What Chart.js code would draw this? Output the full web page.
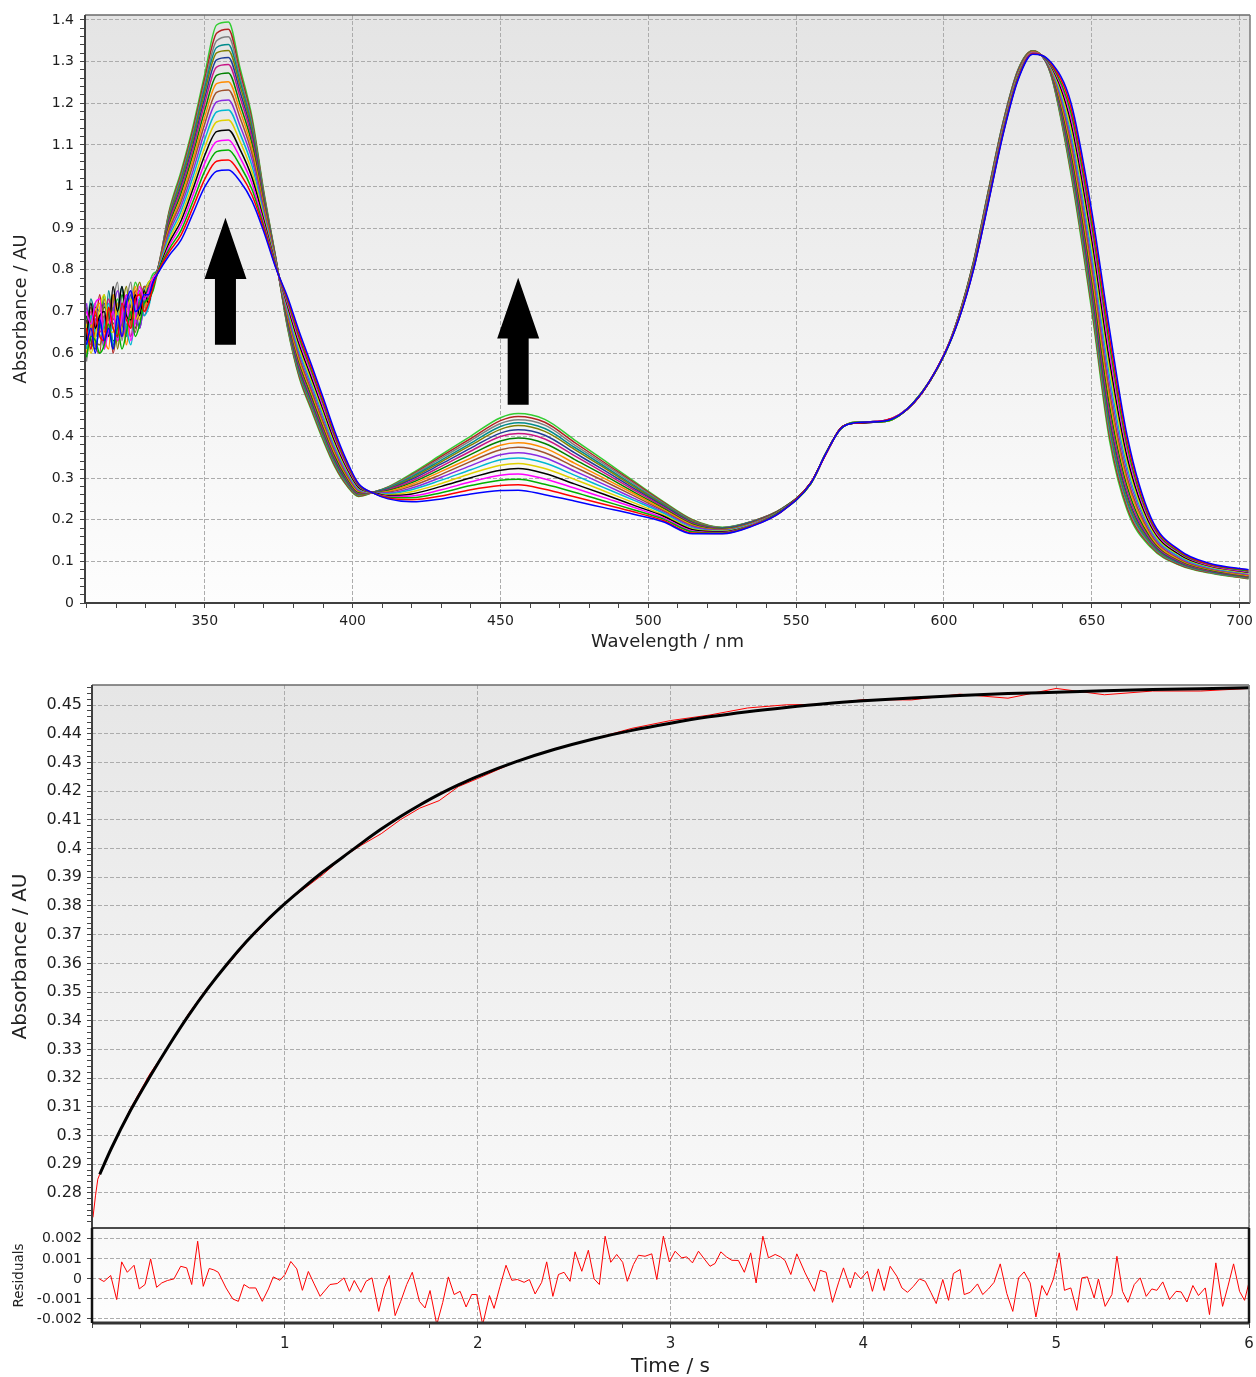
<!DOCTYPE html>
<html>
<head>
<meta charset="utf-8">
<script src="https://cdn.jsdelivr.net/npm/chart.js@4.4.0/dist/chart.umd.min.js"></script>
<style>
  body { margin: 0; background: #fff; width: 1256px; height: 1377px; position: relative; overflow: hidden; }
  canvas { position: absolute; left: 0; }
  #specChart { top: 0; }
  #kinChart { top: 670px; }
  #resChart { top: 1226px; }
</style>
</head>
<body>
<canvas id="specChart" width="1256" height="660"></canvas>
<canvas id="kinChart" width="1256" height="560"></canvas>
<canvas id="resChart" width="1256" height="153"></canvas>
<script>
// ---- spectra (top panel) ----
const wavelengths = [310, 311.5, 313, 314.5, 316, 317.5, 319, 320.5, 322, 323.5, 325, 326.5, 328, 329.5, 331, 332.5,
  334, 338, 342, 346, 350, 354, 358, 362, 366, 370, 374,
  378, 382, 386, 390, 394, 398, 402, 407,
  412, 420, 430, 440, 450, 456, 465, 475, 485, 495, 505, 515, 525, 535,
  545, 555, 560, 565, 570, 580, 590, 600,
  605, 610, 615, 620, 625, 630, 636,
  643, 650, 656, 662, 670, 680, 690, 703];

const scan01 = [0.62, 0.66, 0.60, 0.68, 0.63, 0.66, 0.61, 0.69, 0.64, 0.72, 0.75, 0.70, 0.71, 0.74, 0.74, 0.77,
  0.790, 0.835, 0.872, 0.935, 0.999, 1.037, 1.040, 1.012, 0.965, 0.891, 0.805,
  0.735, 0.651, 0.574, 0.494, 0.412, 0.342, 0.287, 0.264,
  0.250, 0.243, 0.250, 0.262, 0.270, 0.271, 0.260, 0.245, 0.229, 0.213, 0.195, 0.166, 0.166, 0.184,
  0.219, 0.288, 0.358, 0.418, 0.433, 0.437, 0.483, 0.595,
  0.680, 0.800, 0.960, 1.125, 1.255, 1.318, 1.300,
  1.200, 0.940, 0.657, 0.400, 0.205, 0.125, 0.095, 0.080];
const scan02 = [0.66, 0.61, 0.70, 0.64, 0.63, 0.71, 0.66, 0.64, 0.72, 0.68, 0.66, 0.73, 0.74, 0.70, 0.72, 0.76,
  0.791, 0.843, 0.884, 0.950, 1.018, 1.061, 1.064, 1.031, 0.979, 0.898, 0.807,
  0.730, 0.643, 0.566, 0.487, 0.406, 0.338, 0.285, 0.264,
  0.252, 0.248, 0.257, 0.272, 0.282, 0.284, 0.273, 0.255, 0.237, 0.219, 0.198, 0.168, 0.167, 0.185,
  0.219, 0.289, 0.357, 0.419, 0.432, 0.438, 0.482, 0.596,
  0.681, 0.801, 0.962, 1.127, 1.257, 1.319, 1.298,
  1.188, 0.923, 0.638, 0.388, 0.200, 0.123, 0.093, 0.079];
const scan03 = [0.59, 0.64, 0.63, 0.60, 0.62, 0.67, 0.61, 0.66, 0.61, 0.65, 0.70, 0.64, 0.67, 0.72, 0.73, 0.75,
  0.791, 0.850, 0.895, 0.964, 1.037, 1.084, 1.088, 1.050, 0.993, 0.904, 0.809,
  0.725, 0.636, 0.559, 0.480, 0.400, 0.334, 0.283, 0.264,
  0.254, 0.253, 0.265, 0.282, 0.295, 0.297, 0.285, 0.266, 0.245, 0.224, 0.202, 0.171, 0.168, 0.186,
  0.220, 0.287, 0.359, 0.417, 0.434, 0.436, 0.484, 0.594,
  0.681, 0.803, 0.964, 1.129, 1.259, 1.319, 1.296,
  1.176, 0.906, 0.620, 0.375, 0.195, 0.120, 0.092, 0.077];
const scan04 = [0.70, 0.67, 0.72, 0.73, 0.61, 0.66, 0.70, 0.63, 0.69, 0.74, 0.63, 0.68, 0.76, 0.73, 0.75, 0.78,
  0.792, 0.858, 0.907, 0.979, 1.056, 1.108, 1.112, 1.069, 1.007, 0.911, 0.810,
  0.719, 0.628, 0.551, 0.472, 0.394, 0.329, 0.281, 0.264,
  0.256, 0.257, 0.272, 0.291, 0.307, 0.310, 0.298, 0.276, 0.253, 0.230, 0.205, 0.173, 0.169, 0.187,
  0.220, 0.288, 0.357, 0.418, 0.433, 0.438, 0.483, 0.596,
  0.682, 0.804, 0.966, 1.131, 1.260, 1.320, 1.294,
  1.164, 0.890, 0.601, 0.363, 0.190, 0.118, 0.090, 0.075];
const scan05 = [0.63, 0.72, 0.66, 0.69, 0.70, 0.64, 0.76, 0.70, 0.76, 0.69, 0.68, 0.74, 0.69, 0.75, 0.72, 0.77,
  0.793, 0.865, 0.918, 0.994, 1.075, 1.132, 1.136, 1.088, 1.021, 0.918, 0.812,
  0.714, 0.620, 0.543, 0.465, 0.388, 0.325, 0.278, 0.265,
  0.258, 0.262, 0.280, 0.301, 0.319, 0.323, 0.311, 0.286, 0.261, 0.235, 0.209, 0.176, 0.171, 0.187,
  0.221, 0.289, 0.358, 0.419, 0.432, 0.437, 0.482, 0.595,
  0.683, 0.806, 0.968, 1.133, 1.262, 1.320, 1.292,
  1.152, 0.873, 0.582, 0.350, 0.185, 0.115, 0.089, 0.074];
const scan06 = [0.67, 0.60, 0.64, 0.71, 0.74, 0.66, 0.65, 0.72, 0.65, 0.70, 0.73, 0.68, 0.70, 0.74, 0.77, 0.78,
  0.794, 0.873, 0.930, 1.008, 1.094, 1.155, 1.160, 1.107, 1.035, 0.925, 0.814,
  0.709, 0.612, 0.536, 0.458, 0.382, 0.321, 0.276, 0.265,
  0.260, 0.267, 0.287, 0.311, 0.331, 0.335, 0.323, 0.297, 0.269, 0.241, 0.212, 0.178, 0.172, 0.188,
  0.221, 0.287, 0.359, 0.417, 0.434, 0.436, 0.484, 0.594,
  0.684, 0.807, 0.971, 1.136, 1.264, 1.321, 1.290,
  1.139, 0.856, 0.564, 0.338, 0.180, 0.113, 0.087, 0.072];
const scan07 = [0.61, 0.69, 0.65, 0.64, 0.67, 0.72, 0.62, 0.68, 0.72, 0.66, 0.62, 0.70, 0.73, 0.69, 0.71, 0.76,
  0.794, 0.880, 0.941, 1.023, 1.113, 1.179, 1.184, 1.126, 1.049, 0.931, 0.816,
  0.704, 0.604, 0.528, 0.451, 0.376, 0.317, 0.274, 0.265,
  0.262, 0.272, 0.295, 0.320, 0.344, 0.348, 0.336, 0.307, 0.277, 0.247, 0.216, 0.180, 0.173, 0.189,
  0.222, 0.288, 0.358, 0.418, 0.433, 0.438, 0.483, 0.596,
  0.684, 0.808, 0.973, 1.138, 1.266, 1.321, 1.288,
  1.127, 0.839, 0.545, 0.325, 0.175, 0.110, 0.085, 0.071];
const scan08 = [0.72, 0.64, 0.68, 0.69, 0.62, 0.67, 0.70, 0.75, 0.70, 0.64, 0.75, 0.69, 0.66, 0.72, 0.74, 0.77,
  0.795, 0.888, 0.953, 1.037, 1.132, 1.203, 1.208, 1.145, 1.064, 0.938, 0.817,
  0.698, 0.597, 0.520, 0.444, 0.370, 0.313, 0.272, 0.265,
  0.264, 0.276, 0.302, 0.330, 0.356, 0.361, 0.349, 0.317, 0.285, 0.252, 0.219, 0.183, 0.174, 0.190,
  0.222, 0.289, 0.357, 0.419, 0.432, 0.437, 0.482, 0.595,
  0.685, 0.810, 0.975, 1.140, 1.267, 1.322, 1.286,
  1.115, 0.822, 0.526, 0.313, 0.170, 0.108, 0.084, 0.069];
const scan09 = [0.65, 0.71, 0.62, 0.60, 0.73, 0.68, 0.66, 0.63, 0.66, 0.72, 0.69, 0.65, 0.72, 0.76, 0.76, 0.78,
  0.796, 0.896, 0.964, 1.052, 1.151, 1.226, 1.232, 1.164, 1.078, 0.945, 0.819,
  0.693, 0.589, 0.512, 0.436, 0.364, 0.308, 0.270, 0.265,
  0.266, 0.281, 0.309, 0.340, 0.368, 0.374, 0.361, 0.327, 0.293, 0.258, 0.222, 0.185, 0.175, 0.191,
  0.223, 0.287, 0.359, 0.417, 0.434, 0.436, 0.484, 0.594,
  0.686, 0.811, 0.977, 1.142, 1.269, 1.322, 1.284,
  1.103, 0.806, 0.508, 0.300, 0.165, 0.105, 0.082, 0.068];
const scan10 = [0.60, 0.66, 0.70, 0.72, 0.64, 0.61, 0.74, 0.69, 0.70, 0.62, 0.70, 0.76, 0.68, 0.71, 0.73, 0.76,
  0.796, 0.902, 0.974, 1.065, 1.167, 1.247, 1.252, 1.180, 1.090, 0.951, 0.821,
  0.689, 0.582, 0.506, 0.430, 0.359, 0.305, 0.268, 0.265,
  0.268, 0.285, 0.316, 0.348, 0.379, 0.385, 0.372, 0.336, 0.300, 0.263, 0.225, 0.187, 0.176, 0.191,
  0.223, 0.288, 0.358, 0.418, 0.433, 0.438, 0.483, 0.596,
  0.686, 0.812, 0.979, 1.144, 1.271, 1.323, 1.283,
  1.093, 0.791, 0.492, 0.290, 0.160, 0.103, 0.081, 0.066];
const scan11 = [0.69, 0.63, 0.61, 0.67, 0.71, 0.69, 0.63, 0.64, 0.74, 0.71, 0.74, 0.66, 0.71, 0.74, 0.75, 0.78,
  0.797, 0.908, 0.984, 1.077, 1.183, 1.267, 1.273, 1.196, 1.102, 0.956, 0.822,
  0.684, 0.576, 0.499, 0.424, 0.354, 0.301, 0.266, 0.265,
  0.270, 0.289, 0.322, 0.357, 0.389, 0.396, 0.383, 0.345, 0.307, 0.267, 0.228, 0.189, 0.177, 0.192,
  0.224, 0.289, 0.357, 0.419, 0.432, 0.437, 0.482, 0.595,
  0.687, 0.814, 0.980, 1.145, 1.272, 1.323, 1.281,
  1.082, 0.777, 0.475, 0.279, 0.156, 0.101, 0.079, 0.065];
const scan12 = [0.62, 0.70, 0.67, 0.65, 0.68, 0.73, 0.68, 0.72, 0.64, 0.67, 0.64, 0.72, 0.75, 0.69, 0.72, 0.77,
  0.797, 0.915, 0.994, 1.090, 1.200, 1.287, 1.293, 1.213, 1.114, 0.962, 0.824,
  0.680, 0.569, 0.493, 0.418, 0.349, 0.298, 0.264, 0.265,
  0.272, 0.293, 0.328, 0.365, 0.400, 0.407, 0.394, 0.354, 0.313, 0.272, 0.231, 0.191, 0.178, 0.193,
  0.224, 0.287, 0.359, 0.417, 0.434, 0.436, 0.484, 0.594,
  0.687, 0.815, 0.982, 1.147, 1.274, 1.324, 1.279,
  1.072, 0.762, 0.459, 0.268, 0.152, 0.099, 0.078, 0.064];
const scan13 = [0.66, 0.61, 0.71, 0.70, 0.72, 0.65, 0.71, 0.66, 0.67, 0.74, 0.71, 0.70, 0.66, 0.73, 0.76, 0.78,
  0.798, 0.920, 1.002, 1.100, 1.213, 1.304, 1.310, 1.226, 1.124, 0.967, 0.825,
  0.676, 0.563, 0.487, 0.413, 0.345, 0.295, 0.263, 0.266,
  0.273, 0.297, 0.334, 0.372, 0.408, 0.416, 0.403, 0.361, 0.319, 0.276, 0.234, 0.193, 0.179, 0.194,
  0.225, 0.288, 0.358, 0.418, 0.433, 0.438, 0.483, 0.596,
  0.688, 0.816, 0.984, 1.149, 1.275, 1.324, 1.278,
  1.063, 0.750, 0.446, 0.259, 0.148, 0.097, 0.077, 0.063];
const scan14 = [0.71, 0.67, 0.63, 0.62, 0.66, 0.70, 0.74, 0.61, 0.70, 0.76, 0.66, 0.73, 0.77, 0.72, 0.73, 0.77,
  0.798, 0.926, 1.011, 1.111, 1.227, 1.321, 1.327, 1.240, 1.134, 0.972, 0.826,
  0.672, 0.558, 0.482, 0.408, 0.341, 0.292, 0.261, 0.266,
  0.274, 0.300, 0.339, 0.379, 0.417, 0.426, 0.412, 0.369, 0.325, 0.280, 0.236, 0.195, 0.179, 0.194,
  0.225, 0.289, 0.357, 0.419, 0.432, 0.437, 0.482, 0.595,
  0.688, 0.817, 0.985, 1.150, 1.276, 1.325, 1.276,
  1.055, 0.738, 0.433, 0.251, 0.145, 0.096, 0.076, 0.062];
const scan15 = [0.64, 0.73, 0.69, 0.68, 0.61, 0.75, 0.67, 0.70, 0.76, 0.66, 0.73, 0.69, 0.73, 0.75, 0.77, 0.78,
  0.799, 0.930, 1.017, 1.119, 1.238, 1.334, 1.341, 1.251, 1.142, 0.976, 0.827,
  0.669, 0.553, 0.477, 0.403, 0.337, 0.289, 0.260, 0.266,
  0.276, 0.303, 0.343, 0.384, 0.424, 0.433, 0.419, 0.374, 0.329, 0.283, 0.238, 0.196, 0.180, 0.195,
  0.225, 0.287, 0.359, 0.417, 0.434, 0.436, 0.484, 0.594,
  0.689, 0.818, 0.986, 1.151, 1.277, 1.325, 1.275,
  1.048, 0.729, 0.422, 0.243, 0.142, 0.094, 0.075, 0.061];
const scan16 = [0.58, 0.68, 0.72, 0.66, 0.69, 0.64, 0.72, 0.77, 0.63, 0.72, 0.77, 0.67, 0.72, 0.70, 0.74, 0.76,
  0.799, 0.934, 1.024, 1.127, 1.248, 1.350, 1.360, 1.261, 1.150, 0.979, 0.828,
  0.666, 0.549, 0.473, 0.399, 0.334, 0.287, 0.259, 0.266,
  0.277, 0.306, 0.348, 0.390, 0.431, 0.440, 0.427, 0.380, 0.334, 0.287, 0.240, 0.197, 0.181, 0.195,
  0.225, 0.288, 0.358, 0.418, 0.433, 0.438, 0.483, 0.596,
  0.689, 0.818, 0.988, 1.153, 1.278, 1.325, 1.274,
  1.041, 0.719, 0.411, 0.236, 0.139, 0.093, 0.074, 0.060];
const scan17 = [0.68, 0.62, 0.66, 0.74, 0.65, 0.71, 0.60, 0.67, 0.71, 0.64, 0.68, 0.75, 0.70, 0.76, 0.75, 0.78,
  0.800, 0.939, 1.030, 1.136, 1.259, 1.368, 1.378, 1.272, 1.158, 0.983, 0.829,
  0.663, 0.544, 0.468, 0.395, 0.330, 0.284, 0.257, 0.266,
  0.278, 0.308, 0.352, 0.395, 0.438, 0.448, 0.434, 0.386, 0.338, 0.290, 0.242, 0.199, 0.181, 0.196,
  0.226, 0.289, 0.357, 0.419, 0.432, 0.437, 0.482, 0.595,
  0.690, 0.819, 0.989, 1.154, 1.279, 1.326, 1.273,
  1.034, 0.710, 0.401, 0.229, 0.136, 0.091, 0.073, 0.059];
const scan18 = [0.63, 0.69, 0.64, 0.66, 0.74, 0.68, 0.69, 0.73, 0.68, 0.73, 0.71, 0.77, 0.74, 0.71, 0.76, 0.79,
  0.800, 0.943, 1.037, 1.144, 1.270, 1.388, 1.395, 1.283, 1.166, 0.987, 0.830,
  0.660, 0.540, 0.464, 0.391, 0.327, 0.282, 0.256, 0.266,
  0.279, 0.311, 0.356, 0.401, 0.445, 0.455, 0.441, 0.392, 0.343, 0.293, 0.244, 0.200, 0.182, 0.196,
  0.226, 0.288, 0.358, 0.418, 0.433, 0.438, 0.483, 0.596,
  0.690, 0.820, 0.990, 1.155, 1.280, 1.326, 1.272,
  1.027, 0.700, 0.390, 0.222, 0.133, 0.090, 0.072, 0.058];
const scans = [scan01, scan02, scan03, scan04, scan05, scan06, scan07, scan08, scan09,
  scan10, scan11, scan12, scan13, scan14, scan15, scan16, scan17, scan18];

const traceColors = ['#0000ff', '#ff0000', '#00b000', '#ff00ff', '#000000', '#e0d000',
  '#00b8d0', '#8a2be2', '#a0522d', '#ff8c00', '#008000', '#c71585', '#1e3c96',
  '#808000', '#008b8b', '#7f7f7f', '#b22222', '#32cd32'];

// the two "growing" arrows drawn on the spectra
const arrowMarks = [
  { nm: 357, tip: 0.925, neck: 0.778, tail: 0.620 },
  { nm: 456, tip: 0.781, neck: 0.635, tail: 0.476 }
];

// ---- kinetic trace at 456 nm (middle panel) ----
const obsTime = [0.005, 0.018, 0.03, 0.04, 0.1, 0.2, 0.3, 0.4, 0.5, 0.6, 0.7, 0.8, 0.9, 1.0,
  1.1, 1.2, 1.3, 1.4, 1.5, 1.6, 1.7, 1.8, 1.9, 2.0, 2.2, 2.4, 2.6, 2.8, 3.0, 3.2, 3.4,
  3.6, 3.8, 4.0, 4.25, 4.5, 4.75, 5.0, 5.25, 5.5, 5.75, 6.0];
const obsAbs = [0.2715, 0.2790, 0.2848, 0.2865, 0.2957, 0.3095, 0.3215, 0.3314, 0.3424, 0.3517,
  0.3592, 0.3672, 0.3740, 0.3810, 0.3860, 0.3911, 0.3970, 0.4013, 0.4052, 0.4101, 0.4141,
  0.4167, 0.4216, 0.4244, 0.4303, 0.4348, 0.4382, 0.4419, 0.4446, 0.4465, 0.4490, 0.4501,
  0.4503, 0.4519, 0.4518, 0.4538, 0.4524, 0.4558, 0.4536, 0.4549, 0.4549, 0.4558];
const fitTime = [0.04, 0.1, 0.2, 0.3, 0.4, 0.5, 0.6, 0.7, 0.8, 0.9, 1.0, 1.1, 1.2, 1.3, 1.4,
  1.5, 1.6, 1.7, 1.8, 1.9, 2.0, 2.2, 2.4, 2.6, 2.8, 3.0, 3.2, 3.4, 3.6, 3.8, 4.0, 4.25,
  4.5, 4.75, 5.0, 5.25, 5.5, 5.75, 6.0];
const fitAbs = [0.2865, 0.2955, 0.3088, 0.3205, 0.3315, 0.3418, 0.3512, 0.3597, 0.3675, 0.3745,
  0.3808, 0.3866, 0.3920, 0.3970, 0.4020, 0.4068, 0.4112, 0.4152, 0.4189, 0.4222, 0.4252,
  0.4303, 0.4346, 0.4382, 0.4412, 0.4437, 0.4459, 0.4477, 0.4492, 0.4505, 0.4515, 0.4525,
  0.4533, 0.4540, 0.4545, 0.4550, 0.4554, 0.4557, 0.4560];

// ---- residuals (bottom panel) ----
const residTime = [0.038, 0.062, 0.097, 0.128, 0.154, 0.183, 0.218, 0.245, 0.275, 0.304, 0.335,
  0.362, 0.391, 0.425, 0.460, 0.491, 0.517, 0.548, 0.577, 0.608, 0.632, 0.655, 0.695, 0.730,
  0.759, 0.788, 0.816, 0.849, 0.883, 0.915, 0.940, 0.975, 1.001, 1.031, 1.062, 1.091, 1.122,
  1.152, 1.183, 1.234, 1.272, 1.307, 1.335, 1.360, 1.394, 1.421, 1.452, 1.487, 1.516, 1.542,
  1.572, 1.601, 1.632, 1.661, 1.698, 1.727, 1.753, 1.788, 1.819, 1.848, 1.878, 1.909, 1.940,
  1.969, 1.995, 2.026, 2.061, 2.085, 2.116, 2.147, 2.177, 2.206, 2.241, 2.268, 2.298, 2.332,
  2.358, 2.390, 2.419, 2.448, 2.479, 2.505, 2.540, 2.574, 2.604, 2.631, 2.661, 2.690, 2.721,
  2.752, 2.776, 2.808, 2.834, 2.868, 2.903, 2.929, 2.963, 2.994, 3.024, 3.058, 3.084, 3.114,
  3.145, 3.175, 3.205, 3.231, 3.261, 3.290, 3.318, 3.352, 3.383, 3.416, 3.444, 3.479, 3.508,
  3.543, 3.570, 3.594, 3.624, 3.655, 3.698, 3.746, 3.776, 3.807, 3.840, 3.871, 3.897, 3.932,
  3.957, 3.987, 4.021, 4.047, 4.078, 4.108, 4.139, 4.174, 4.200, 4.229, 4.260, 4.291, 4.321,
  4.350, 4.378, 4.412, 4.442, 4.467, 4.502, 4.523, 4.554, 4.592, 4.619, 4.649, 4.678, 4.710,
  4.744, 4.775, 4.805, 4.834, 4.865, 4.895, 4.926, 4.952, 4.986, 5.016, 5.043, 5.076, 5.107,
  5.133, 5.162, 5.197, 5.219, 5.254, 5.289, 5.315, 5.344, 5.372, 5.405, 5.436, 5.467, 5.496,
  5.522, 5.553, 5.588, 5.622, 5.648, 5.678, 5.709, 5.738, 5.773, 5.795, 5.828, 5.863, 5.890,
  5.920, 5.951, 5.977, 6.000];
const residValue = [0.00000, -0.00013, 0.00017, -0.00103, 0.00085, 0.00033, 0.00068, -0.00050,
  -0.00028, 0.00100, -0.00042, -0.00020, -0.00008, 0.00000, 0.00063, 0.00055, -0.00028, 0.00188,
  -0.00037, 0.00052, 0.00045, 0.00033, -0.00045, -0.00100, -0.00112, -0.00028, -0.00045, -0.00045,
  -0.00112, -0.00050, 0.00010, -0.00007, 0.00022, 0.00087, 0.00050, -0.00057, 0.00037, -0.00025,
  -0.00087, -0.00028, -0.00023, 0.00005, -0.00062, -0.00008, -0.00067, -0.00012, 0.00005, -0.00162,
  -0.00045, 0.00017, -0.00183, -0.00112, -0.00028, 0.00033, -0.00112, -0.00145, -0.00058, -0.00228,
  -0.00117, 0.00010, -0.00078, -0.00062, -0.00140, -0.00078, -0.00078, -0.00228, -0.00083, -0.00147,
  -0.00037, 0.00068, -0.00007, -0.00003, -0.00017, -0.00003, -0.00075, -0.00017, 0.00085, -0.00087,
  0.00022, 0.00033, -0.00012, 0.00135, 0.00038, 0.00143, 0.00000, -0.00028, 0.00213, 0.00083,
  0.00122, 0.00083, -0.00012, 0.00072, 0.00118, 0.00113, 0.00125, -0.00003, 0.00213, 0.00085,
  0.00138, 0.00105, 0.00110, 0.00080, 0.00138, 0.00100, 0.00063, 0.00077, 0.00135, 0.00110,
  0.00093, 0.00092, 0.00033, 0.00130, -0.00020, 0.00213, 0.00105, 0.00122, 0.00110, 0.00092,
  0.00022, 0.00125, 0.00030, -0.00062, 0.00043, 0.00033, -0.00117, -0.00020, 0.00055, -0.00045,
  0.00033, 0.00000, 0.00038, -0.00062, 0.00050, -0.00058, 0.00063, 0.00013, -0.00045, -0.00067,
  -0.00037, 0.00000, -0.00012, -0.00067, -0.00123, -0.00003, -0.00107, 0.00027, 0.00047, -0.00078,
  -0.00067, -0.00025, -0.00078, -0.00050, -0.00017, 0.00075, -0.00073, -0.00162, 0.00005, 0.00035,
  -0.00020, -0.00190, -0.00033, -0.00082, 0.00000, 0.00130, -0.00057, -0.00045, -0.00157, 0.00005,
  0.00010, -0.00095, 0.00000, -0.00137, -0.00078, 0.00113, -0.00062, -0.00117, -0.00028, 0.00005,
  -0.00087, -0.00050, -0.00057, -0.00015, -0.00103, -0.00062, -0.00065, -0.00115, -0.00033, -0.00083,
  -0.00045, -0.00178, 0.00080, -0.00137, -0.00040, 0.00075, -0.00062, -0.00107, -0.00017];

// ---- tick labels ----
const specXTicks = [350, 400, 450, 500, 550, 600, 650, 700];
const specYTicks = [0, 0.1, 0.2, 0.3, 0.4, 0.5, 0.6, 0.7, 0.8, 0.9, 1, 1.1, 1.2, 1.3, 1.4];
const kinYTicks = [0.28, 0.29, 0.30, 0.31, 0.32, 0.33, 0.34, 0.35, 0.36, 0.37, 0.38, 0.39,
  0.40, 0.41, 0.42, 0.43, 0.44, 0.45];
const timeTicks = [1, 2, 3, 4, 5, 6];
const resYTicks = [-0.002, -0.001, 0, 0.001, 0.002];

// ---- helpers ----
const GRID = '#acacac';
const TICK = '#444';
Chart.defaults.font.family = "'DejaVu Sans', Verdana, sans-serif";
Chart.defaults.color = '#1e1e1e';

const hasTick = (list, v) => list.some(t => Math.abs(t - v) < 1e-7);
const fmt = v => String(+v.toFixed(4)).replace(/^-0$/, '0');

function stepTicks(from, to, step) {
  const out = [];
  const n = Math.round((to - from) / step);
  for (let i = 0; i <= n; i++) out.push({ value: +(from + i * step).toFixed(6) });
  return out;
}

function axis(cfg) {
  const major = cfg.major;
  return {
    type: 'linear',
    min: cfg.min,
    max: cfg.max,
    afterBuildTicks: s => { s.ticks = cfg.ticks; },
    afterFit: s => {
      // fixed box sizes, and no extra room for half-labels at the ends
      if (s.isHorizontal()) s.height = cfg.size; else s.width = cfg.size;
      s.paddingTop = 0; s.paddingBottom = 0; s.paddingLeft = 0; s.paddingRight = 0;
    },
    ticks: {
      display: cfg.labels !== false,
      autoSkip: false, maxRotation: 0, minRotation: 0,
      padding: cfg.pad || 5,
      font: { size: cfg.font || 14 },
      callback: v => hasTick(major, v) ? fmt(v) : ''
    },
    grid: {
      color: c => (c.tick && hasTick(major, c.tick.value)) ? GRID : 'rgba(0,0,0,0)',
      tickColor: TICK,
      tickLength: 5,
      drawTicks: cfg.labels !== false,
      lineWidth: 1
    },
    border: { display: false, dash: [4, 2] },
    title: cfg.title ? {
      display: true, text: cfg.title, font: { size: cfg.titleSize },
      color: '#222', padding: cfg.titlePad
    } : { display: false }
  };
}

const plotBackground = {
  id: 'plotBackground',
  beforeDraw(chart, args, opts) {
    const { ctx, chartArea: a } = chart;
    const g = ctx.createLinearGradient(0, a.top, 0, a.bottom);
    g.addColorStop(0, opts.top);
    g.addColorStop(1, opts.bottom);
    ctx.save();
    ctx.fillStyle = g;
    ctx.fillRect(a.left, a.top, a.right - a.left, a.bottom - a.top);
    ctx.restore();
  }
};

const plotFrame = {
  id: 'plotFrame',
  afterDraw(chart, args, opts) {
    const { ctx, chartArea: a } = chart;
    const edges = {
      top: [a.left, a.top, a.right, a.top],
      bottom: [a.left, a.bottom, a.right, a.bottom],
      left: [a.left, a.top, a.left, a.bottom],
      right: [a.right, a.top, a.right, a.bottom]
    };
    ctx.save();
    Object.keys(edges).forEach(k => {
      if (!opts[k]) return;
      const [w, col] = opts[k];
      const e = edges[k];
      ctx.lineWidth = w;
      ctx.strokeStyle = col;
      ctx.beginPath();
      ctx.moveTo(e[0], e[1]);
      ctx.lineTo(e[2], e[3]);
      ctx.stroke();
    });
    ctx.restore();
  }
};

const upArrows = {
  id: 'upArrows',
  afterDatasetsDraw(chart) {
    const { ctx, scales: { x, y } } = chart;
    ctx.save();
    ctx.fillStyle = '#000';
    arrowMarks.forEach(m => {
      const cx = x.getPixelForValue(m.nm);
      const tip = y.getPixelForValue(m.tip);
      const neck = y.getPixelForValue(m.neck);
      const tail = y.getPixelForValue(m.tail);
      ctx.beginPath();
      ctx.moveTo(cx, tip);
      ctx.lineTo(cx + 21, neck);
      ctx.lineTo(cx + 10.5, neck);
      ctx.lineTo(cx + 10.5, tail);
      ctx.lineTo(cx - 10.5, tail);
      ctx.lineTo(cx - 10.5, neck);
      ctx.lineTo(cx - 21, neck);
      ctx.closePath();
      ctx.fill();
    });
    ctx.restore();
  }
};

const common = {
  responsive: false,
  animation: false,
  events: [],
  plugins: { legend: { display: false }, tooltip: { enabled: false } }
};

// ---- top: spectra ----
new Chart(document.getElementById('specChart'), {
  type: 'line',
  data: {
    datasets: scans.map((scan, i) => ({
      data: wavelengths.map((w, j) => ({ x: w, y: scan[j] })),
      borderColor: traceColors[i % traceColors.length],
      borderWidth: 1.5,
      pointRadius: 0,
      cubicInterpolationMode: 'monotone',
      fill: false
    }))
  },
  options: {
    ...common,
    layout: { padding: { top: 15, right: 6, left: 0, bottom: 0 } },
    scales: {
      x: axis({ min: 309.5, max: 703.5, ticks: stepTicks(310, 700, 10), major: specXTicks,
        size: 57, pad: 5, font: 14, title: 'Wavelength / nm', titleSize: 18,
        titlePad: { top: 0, bottom: 7 } }),
      y: axis({ min: 0, max: 1.412, ticks: stepTicks(0, 1.4, 0.02), major: specYTicks,
        size: 85, pad: 6, font: 14, title: 'Absorbance / AU', titleSize: 18,
        titlePad: { top: 11, bottom: 0 } })
    },
    plugins: {
      ...common.plugins,
      plotBackground: { top: '#e4e4e4', bottom: '#fdfdfd' },
      plotFrame: { top: [1.5, '#6a6a6a'], right: [1.5, '#7a7a7a'], left: [2, '#404040'], bottom: [2, '#404040'] }
    }
  },
  plugins: [plotBackground, upArrows, plotFrame]
});

// ---- middle: kinetic trace and fit ----
new Chart(document.getElementById('kinChart'), {
  type: 'line',
  data: {
    datasets: [
      {
        data: fitTime.map((t, i) => ({ x: t, y: fitAbs[i] })),
        borderColor: '#000', borderWidth: 3, pointRadius: 0,
        cubicInterpolationMode: 'monotone', fill: false
      },
      {
        data: obsTime.map((t, i) => ({ x: t, y: obsAbs[i] })),
        borderColor: '#ff0000', borderWidth: 1, pointRadius: 0, tension: 0, fill: false
      }
    ]
  },
  options: {
    ...common,
    layout: { padding: { top: 15, right: 7, left: 0, bottom: 2 } },
    scales: {
      x: axis({ min: 0, max: 6, ticks: stepTicks(0, 6, 1), major: timeTicks, labels: false, size: 0 }),
      y: axis({ min: 0.2678, max: 0.457, ticks: stepTicks(0.27, 0.456, 0.002), major: kinYTicks,
        size: 92, pad: 5, font: 16, title: 'Absorbance / AU', titleSize: 20,
        titlePad: { top: 9, bottom: 0 } })
    },
    plugins: {
      ...common.plugins,
      plotBackground: { top: '#e6e6e6', bottom: '#f9f9f9' },
      plotFrame: { top: [1.5, '#6a6a6a'], right: [1.5, '#7a7a7a'], left: [2, '#404040'] }
    }
  },
  plugins: [plotBackground, plotFrame]
});

// ---- bottom: residuals ----
new Chart(document.getElementById('resChart'), {
  type: 'line',
  data: {
    datasets: [{
      data: residTime.map((t, i) => ({ x: t, y: residValue[i] })),
      borderColor: '#ff0000', borderWidth: 1, pointRadius: 0, tension: 0, fill: false
    }]
  },
  options: {
    ...common,
    layout: { padding: { top: 2, right: 7, left: 0, bottom: 0 } },
    scales: {
      x: axis({ min: 0, max: 6, ticks: stepTicks(0, 6, 0.25), major: timeTicks,
        size: 56, pad: 7, font: 15, title: 'Time / s', titleSize: 20,
        titlePad: { top: 0, bottom: 0 } }),
      y: axis({ min: -0.0022, max: 0.00254, ticks: stepTicks(-0.002, 0.002, 0.001), major: resYTicks,
        size: 92, pad: 5, font: 14, title: 'Residuals', titleSize: 13.5,
        titlePad: { top: 11, bottom: 0 } })
    },
    plugins: {
      ...common.plugins,
      plotBackground: { top: '#f8f8f8', bottom: '#fefefe' },
      plotFrame: { top: [1.5, '#111'], right: [2.5, '#111'], left: [2.5, '#111'], bottom: [3, '#333'] }
    }
  },
  plugins: [plotBackground, plotFrame]
});
</script>
</body>
</html>
